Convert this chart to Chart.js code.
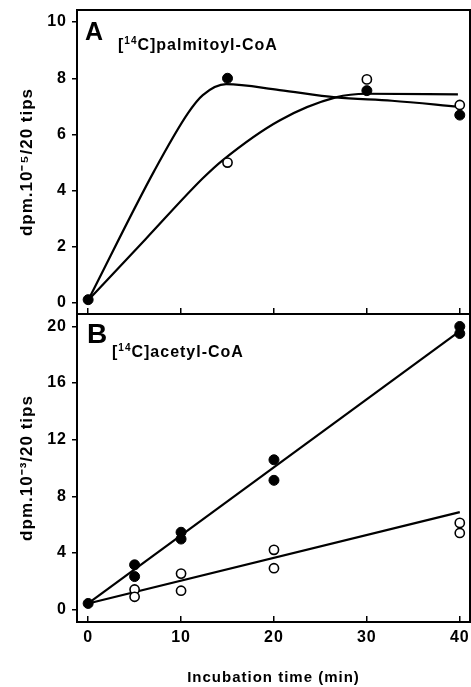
<!DOCTYPE html>
<html><head><meta charset="utf-8">
<script src="https://cdn.jsdelivr.net/npm/chart.js@4.4.1/dist/chart.umd.min.js"></script>
<style>
html,body{margin:0;padding:0;background:#fff;width:471px;height:687px;overflow:hidden}
canvas{position:absolute;left:0}
#ca{top:0}
#cb{top:300px}
</style></head>
<body>
<canvas id="ca" width="471" height="330"></canvas>
<canvas id="cb" width="471" height="387"></canvas>
<script>
// ---------- data ----------
const X_TICKS = [0, 10, 20, 30, 40];
const A_Y_TICKS = [0, 2, 4, 6, 8, 10];
const B_Y_TICKS = [0, 4, 8, 12, 16, 20];

// Panel A: [14C]palmitoyl-CoA
const A_FILLED_X = [0, 15, 30, 40];
const A_FILLED_Y = [0.12, 8.0, 7.56, 6.69];
const A_OPEN_X = [15, 30, 40];
const A_OPEN_Y = [5.0, 7.96, 7.05];
const A_FILLED_CURVE_X = [0, 7.16, 10.73, 12.34, 14.85, 20.6, 26.65, 32.7, 39.8];
const A_FILLED_CURVE_Y = [0.1, 4.73, 6.75, 7.4, 7.79, 7.58, 7.32, 7.2, 6.99];
const A_OPEN_CURVE_X = [0, 6.2, 12.34, 14.5, 20.6, 26.65, 30, 39.8];
const A_OPEN_CURVE_Y = [0.1, 2.28, 4.44, 5.09, 6.5, 7.32, 7.45, 7.43];

// Panel B: [14C]acetyl-CoA
const B_FILLED_X = [0, 5, 5, 10, 10, 20, 20, 40, 40];
const B_FILLED_Y = [0.43, 3.16, 2.33, 5.46, 4.98, 10.58, 9.13, 20.0, 19.5];
const B_OPEN_X = [5, 5, 10, 10, 20, 20, 40, 40];
const B_OPEN_Y = [1.42, 0.9, 2.54, 1.33, 4.22, 2.92, 6.12, 5.41];
const B_FILLED_FIT_X = [0, 40];
const B_FILLED_FIT_Y = [0.43, 19.67];
const B_OPEN_FIT_X = [0, 40];
const B_OPEN_FIT_Y = [0.43, 6.88];

const A_TITLE = 'dpm.10\u207B\u2075/20 tips';
const B_TITLE = 'dpm.10\u207B\u00B3/20 tips';
const X_TITLE = 'Incubation time (min)';

// ---------- drawing ----------
const FONT = "'Liberation Sans', Arial, Helvetica, sans-serif";
Chart.defaults.font.family = FONT;
Chart.defaults.font.weight = 'bold';
Chart.defaults.color = '#000';

function pts(xs, ys) { return xs.map((x, i) => ({ x: x, y: ys[i] })); }
function fixedTicks(arr) { return s => { s.ticks = arr.map(v => ({ value: v })); }; }
function noPad(s) { s.paddingTop = 0; s.paddingBottom = 0; s.paddingLeft = 0; s.paddingRight = 0; }

const spacing = {
  id: 'spacing',
  beforeUpdate(chart) { chart.ctx.letterSpacing = '1px'; },
  beforeDraw(chart) { chart.ctx.letterSpacing = '1px'; }
};

const frameText = {
  id: 'frameText',
  afterDraw(chart, args, o) {
    const ctx = chart.ctx, a = chart.chartArea;
    ctx.save();
    ctx.strokeStyle = '#000';
    ctx.lineWidth = 2;
    ctx.strokeRect(a.left, a.top, a.right - a.left, a.bottom - a.top);
    ctx.fillStyle = '#000';
    ctx.textAlign = 'left';
    ctx.textBaseline = 'alphabetic';
    ctx.font = 'bold ' + o.letterSize + 'px ' + FONT;
    ctx.fillText(o.letter, a.left + o.letterDx, a.top + o.letterDy);
    let x = a.left + o.labelDx;
    const y = a.top + o.labelDy;
    o.parts.forEach(p => {
      const sup = p[1];
      ctx.font = 'bold ' + (sup ? Math.round(o.labelSize * 0.62) : o.labelSize) + 'px ' + FONT;
      ctx.fillText(p[0], x, sup ? y - o.labelSize * 0.4 : y);
      x += ctx.measureText(p[0]).width;
    });
    ctx.restore();
  }
};

function pointSets(fx, fy, ox, oy) {
  return [
    { data: pts(fx, fy), showLine: false, pointRadius: 5, pointBackgroundColor: '#000', pointBorderColor: '#000', pointBorderWidth: 1 },
    { data: pts(ox, oy), showLine: false, pointRadius: 4.6, pointBackgroundColor: '#fff', pointBorderColor: '#000', pointBorderWidth: 1.6 }
  ];
}
function lineSet(xs, ys, smooth) {
  return { data: pts(xs, ys), showLine: true, pointRadius: 0, borderColor: '#000', borderWidth: 2.2,
           cubicInterpolationMode: smooth ? 'monotone' : 'default', tension: 0, fill: false };
}
function yScale(min, max, ticks, title) {
  return {
    type: 'linear', min: min, max: max, afterBuildTicks: fixedTicks(ticks),
    ticks: { font: { size: 16, weight: 'bold' }, color: '#000', padding: 5 },
    grid: { drawOnChartArea: false, tickLength: 5, color: '#000', lineWidth: 1.5 },
    border: { display: false },
    title: { display: true, text: title, font: { size: 17, weight: 'bold' }, color: '#000', padding: { top: 17, bottom: 0 } },
    afterFit: s => { s.width = 77; noPad(s); }
  };
}

new Chart(document.getElementById('ca'), {
  type: 'scatter',
  data: { datasets: pointSets(A_FILLED_X, A_FILLED_Y, A_OPEN_X, A_OPEN_Y).concat([
    lineSet(A_FILLED_CURVE_X, A_FILLED_CURVE_Y, true),
    lineSet(A_OPEN_CURVE_X, A_OPEN_CURVE_Y, true)
  ]) },
  options: {
    responsive: false, animation: false, events: [],
    layout: { autoPadding: false, padding: { top: 10, right: 1, left: 0, bottom: 0 } },
    plugins: {
      legend: { display: false }, tooltip: { enabled: false },
      frameText: { letter: 'A', letterSize: 25, letterDx: 8, letterDy: 30,
                   labelSize: 16, labelDx: 41, labelDy: 40,
                   parts: [['[', false], ['14', true], ['C]palmitoyl-CoA', false]] }
    },
    scales: {
      x: { type: 'linear', position: 'bottom', min: -1.2, max: 41.1, afterBuildTicks: fixedTicks(X_TICKS),
           ticks: { display: false },
           grid: { drawOnChartArea: false, tickLength: -6, color: '#000', lineWidth: 1.5 },
           border: { display: false },
           afterFit: s => { s.height = 16; noPad(s); } },
      y: yScale(-0.39, 10.43, A_Y_TICKS, A_TITLE)
    }
  },
  plugins: [spacing, frameText]
});

new Chart(document.getElementById('cb'), {
  type: 'scatter',
  data: { datasets: pointSets(B_FILLED_X, B_FILLED_Y, B_OPEN_X, B_OPEN_Y).concat([
    lineSet(B_FILLED_FIT_X, B_FILLED_FIT_Y, false),
    lineSet(B_OPEN_FIT_X, B_OPEN_FIT_Y, false)
  ]) },
  options: {
    responsive: false, animation: false, events: [],
    layout: { autoPadding: false, padding: { top: 14, right: 1, left: 0, bottom: 0 } },
    plugins: {
      legend: { display: false }, tooltip: { enabled: false },
      frameText: { letter: 'B', letterSize: 28, letterDx: 10, letterDy: 29,
                   labelSize: 16, labelDx: 35, labelDy: 43,
                   parts: [['[', false], ['14', true], ['C]acetyl-CoA', false]] }
    },
    scales: {
      x: { type: 'linear', position: 'bottom', min: -1.2, max: 41.1, afterBuildTicks: fixedTicks(X_TICKS),
           ticks: { font: { size: 16, weight: 'bold' }, color: '#000', padding: 12, maxRotation: 0 },
           grid: { drawOnChartArea: false, tickLength: -6, color: '#000', lineWidth: 1.5 },
           border: { display: false },
           title: { display: true, text: X_TITLE, font: { size: 15, weight: 'bold' }, color: '#000', padding: { top: 0, bottom: 0 } },
           afterFit: s => { s.height = 65; noPad(s); } },
      y: yScale(-0.88, 20.88, B_Y_TICKS, B_TITLE)
    }
  },
  plugins: [spacing, frameText]
});
</script>
</body></html>
